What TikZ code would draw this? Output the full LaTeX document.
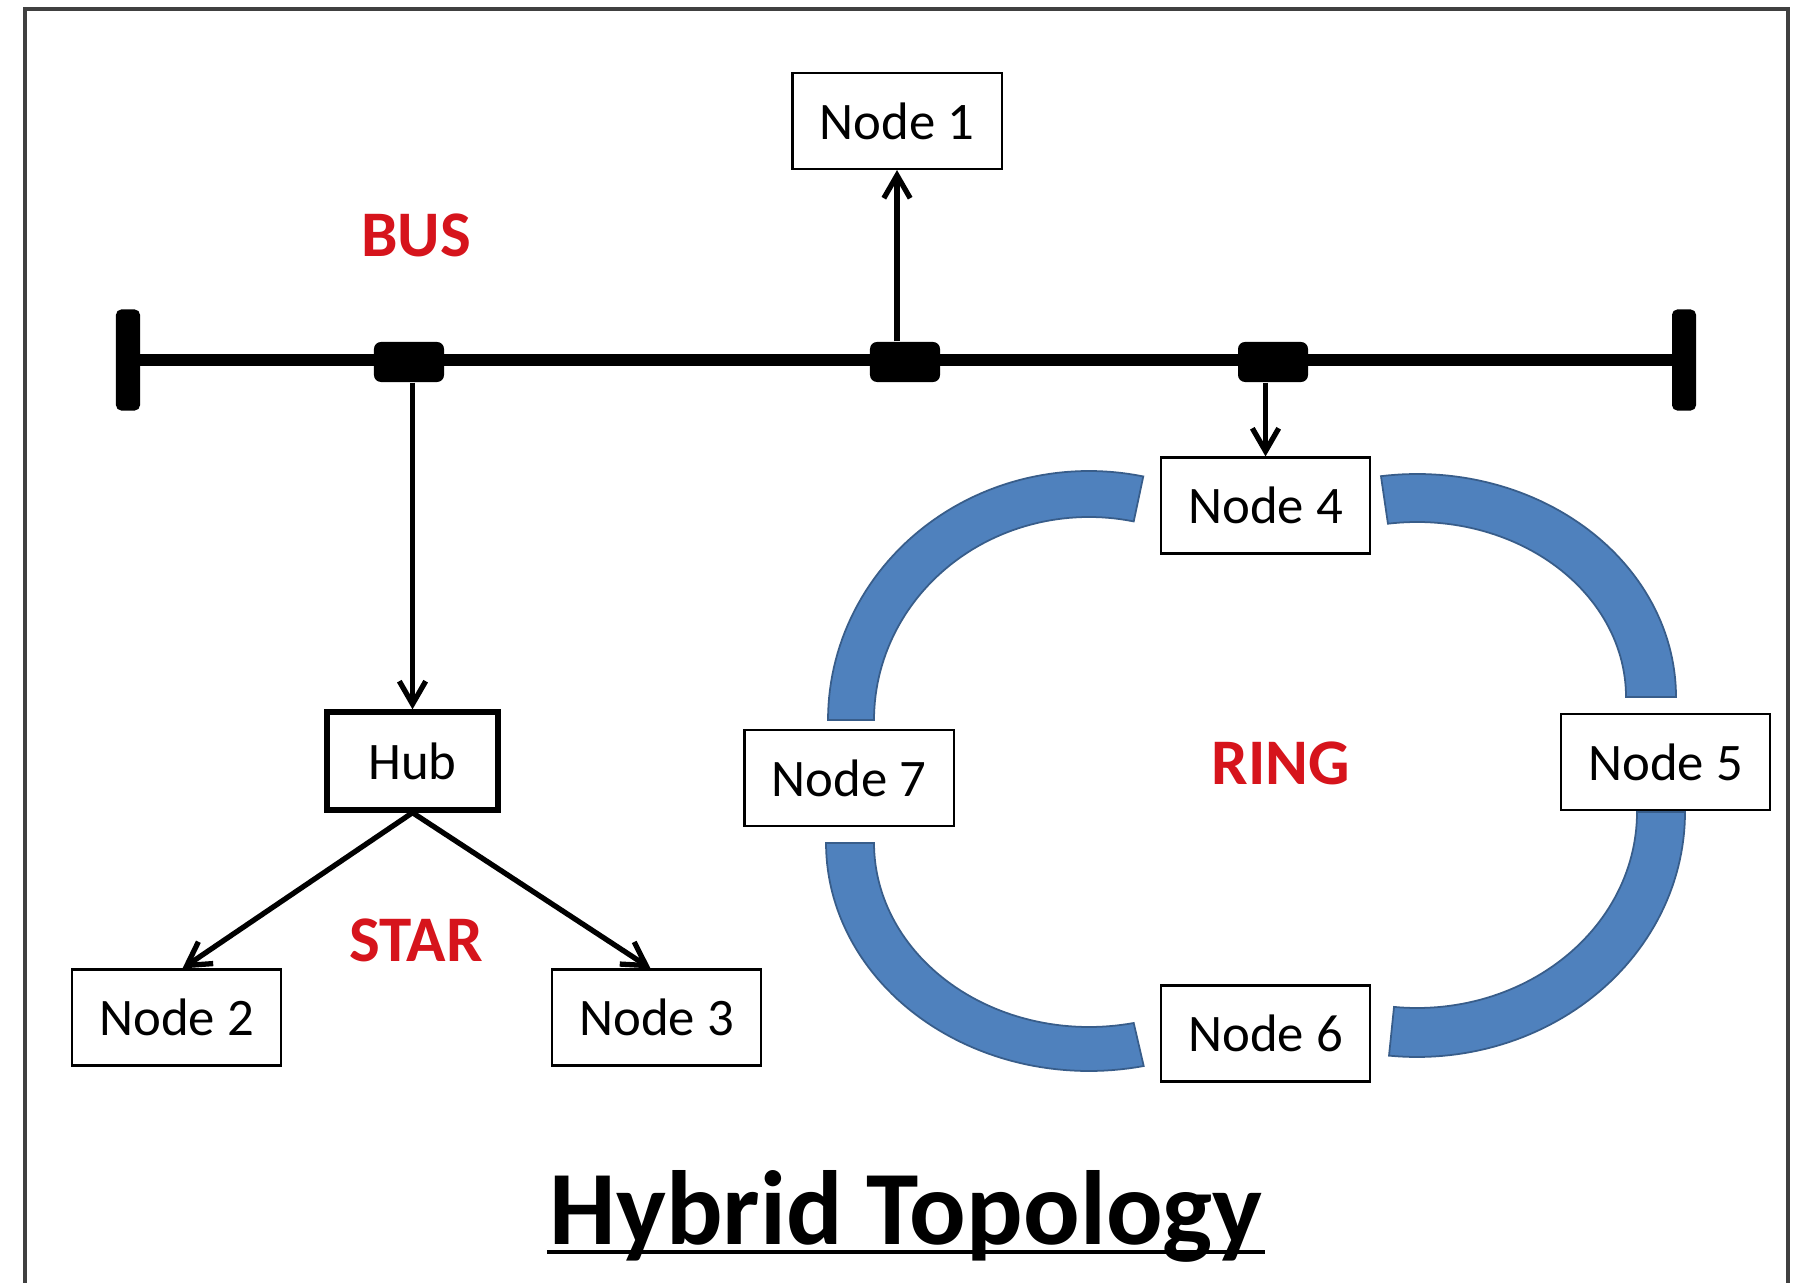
\documentclass[tikz,border=0pt]{standalone}
\usepackage{fontspec}
\setmainfont{Carlito}
\usetikzlibrary{arrows.meta,calc}

\definecolor{labelred}{RGB}{214,20,28}
\definecolor{ringfill}{RGB}{79,129,189}
\definecolor{ringedge}{RGB}{56,93,138}
\definecolor{framegray}{RGB}{64,64,64}

% One thick elliptical band of the ring:
% centre (#1,#2), outer radii #3/#4, inner radii #5/#6, from angle #7 to #8
\newcommand\ringarc[8]{%
  \filldraw[ringband]
    plot[domain=#7:#8,samples=60,variable=\t] ({#1+#3*cos(\t)},{#2+#4*sin(\t)})
    -- plot[domain=#8:#7,samples=60,variable=\t] ({#1+#5*cos(\t)},{#2+#6*sin(\t)})
    -- cycle;}

\tikzset{
  box/.style={draw=black, line width=0.6pt, fill=white,
    minimum width=2.09cm, minimum height=0.96cm, inner sep=0pt,
    font=\fontsize{15}{18}\selectfont},
  hubbox/.style={box, line width=1.5pt, minimum width=1.71cm, minimum height=0.98cm},
  endcap/.style={fill=black, rounded corners=1.5pt, minimum width=0.24cm,
    minimum height=1.01cm, inner sep=0pt},
  tap/.style={fill=black, rounded corners=2pt, minimum width=0.70cm,
    minimum height=0.40cm, inner sep=0pt},
  busline/.style={line width=3.4pt},
  link/.style={line width=1.5pt, -{Straight Barb[length=6.5pt,width=7.5pt,line width=1.5pt]}},
  tag/.style={text=labelred, font=\fontsize{18.5}{22}\selectfont\bfseries, inner sep=0pt},
  ringband/.style={fill=ringfill, draw=ringedge, line width=0.5pt},
  frame/.style={draw=framegray, line width=0.9pt},
}

\begin{document}
\begin{tikzpicture}[x=0.01cm, y=-0.01cm]
  % page area and outer frame (open at the bottom)
  \clip (0,0) rectangle (1798,1283);
  \fill[white] (0,0) rectangle (1798,1283);
  \draw[frame] (25,1300) -- (25,9) -- (1788,9) -- (1788,1300);

  % bus backbone
  \node[endcap] (capL) at (128,360) {};
  \node[endcap] (capR) at (1684,360) {};
  \draw[busline] (capL.center) -- (capR.center);
  \node[tap] (c1) at (409,362) {};
  \node[tap] (c2) at (905,362) {};
  \node[tap] (c3) at (1273,362) {};

  % nodes
  \node[box] (n1) at (897,121) {Node 1};
  \node[hubbox] (hub) at (412.5,761) {Hub};
  \node[box] (n2) at (176.5,1017.5) {Node 2};
  \node[box] (n3) at (656.5,1017.5) {Node 3};

  % ring bands
  \ringarc{1089}{720}{261}{249}{215}{203}{180}{282}
  \ringarc{1417}{697}{259}{223}{209}{175}{262}{360}
  \ringarc{1417}{812}{268}{245}{220}{196}{0}{96}
  \ringarc{1089}{843}{263}{228}{215}{184}{78}{180}

  \node[box] (n4) at (1265.5,505.5) {Node 4};
  \node[box] (n5) at (1665.5,762) {Node 5};
  \node[box] (n6) at (1265.5,1033.5) {Node 6};
  \node[box] (n7) at (849,778) {Node 7};

  % connections
  \draw[link] (n1.south |- c2.north) -- (n1.south);
  \draw[link] (hub.north |- c1.south) -- (hub.north);
  \draw[link] (n4.north |- c3.south) -- (n4.north);
  \draw[link] (hub.south) -- ($(n2.north)+(6,0)$);
  \draw[link] (hub.south) -- ($(n3.north)+(-6,0)$);

  % section labels
  \node[tag] (bus) at (416,235) {BUS};
  \node[tag] (star) at (416,940) {STAR};
  \node[tag] (ring) at (1281,763) {RING};

  % title with underline
  \node[font=\fontsize{30}{36}\selectfont\bfseries, inner sep=0pt, anchor=base]
    (title) at (906,1244) {Hybrid Topology};
  \draw[line width=1.4pt] ($(title.base west)+(-2,8)$) -- ($(title.base east)+(2,8)$);
\end{tikzpicture}
\end{document}
